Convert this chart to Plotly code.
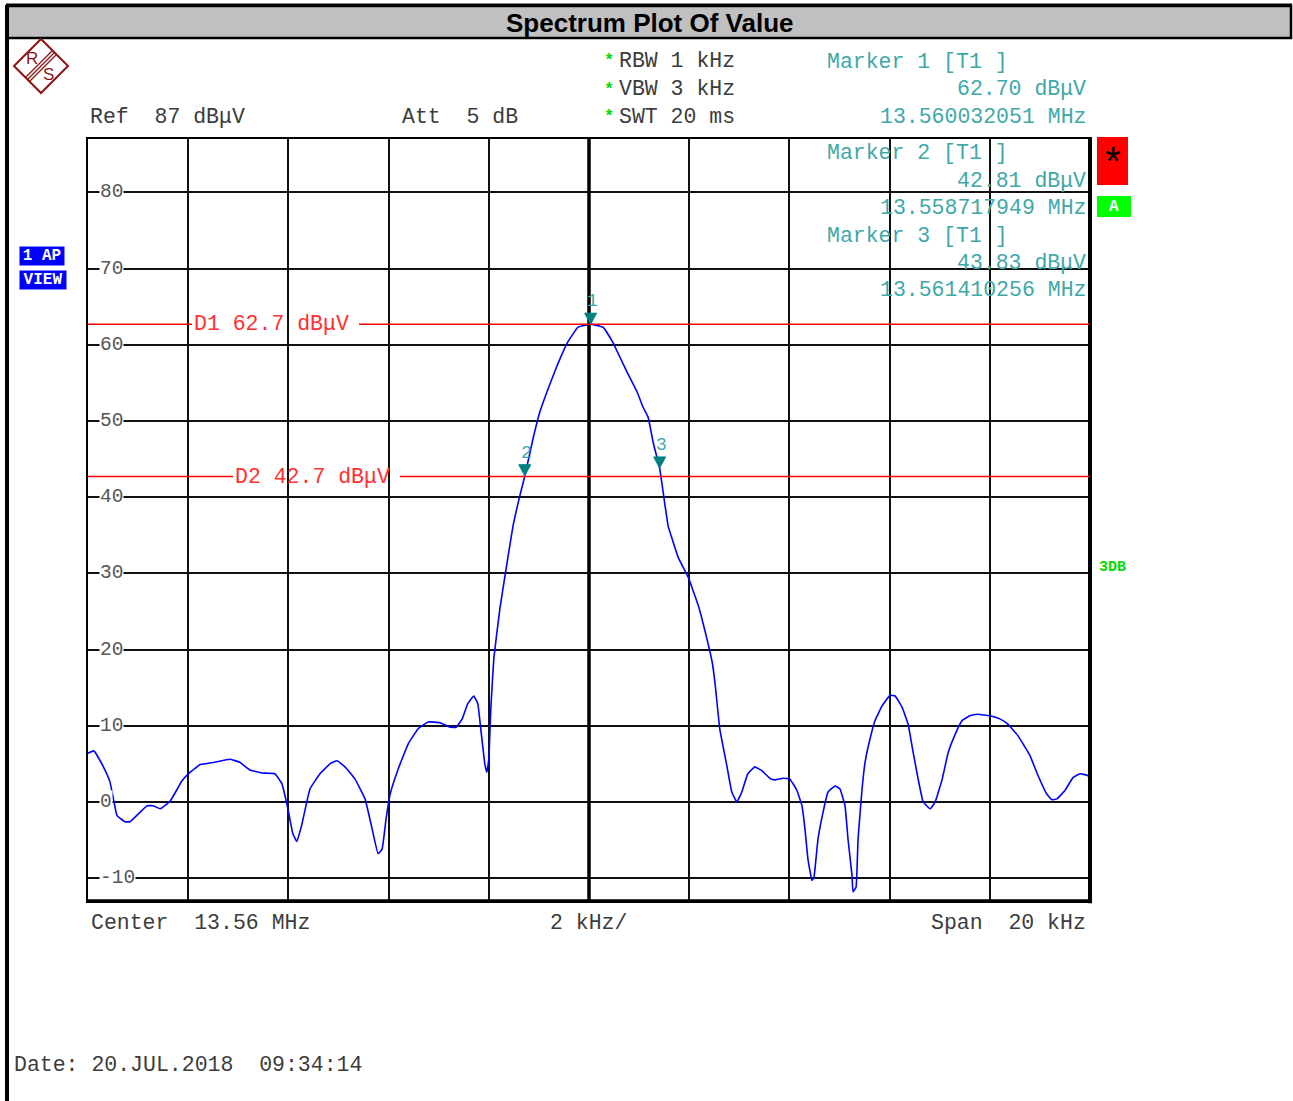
import plotly.graph_objects as go

# ---------------- data ----------------
center_mhz = 13.56
span_khz = 20
ref_level = 87
range_db = 100

freq_offset_khz = [
    -10.0, -9.88, -9.70, -9.56, -9.42, -9.26, -9.16, -8.82, -8.70, -8.56,
    -8.36, -8.12, -7.96, -7.76, -7.47, -7.17, -6.97, -6.77, -6.53, -6.27,
    -6.13, -6.01, -5.91, -5.83, -5.73, -5.57, -5.37, -5.17, -5.03, -4.87,
    -4.67, -4.47, -4.33, -4.21, -4.13, -4.05, -3.97, -3.81, -3.61, -3.41,
    -3.21, -2.97, -2.77, -2.65, -2.53, -2.42, -2.30, -2.22, -2.16, -2.08,
    -2.04, -2.00, -1.96, -1.90, -1.78, -1.64, -1.52, -1.38, -1.28, -1.12,
    -0.98, -0.84, -0.64, -0.42, -0.22, -0.04, 0.03, 0.28, 0.46, 0.76,
    0.96, 1.08, 1.18, 1.28, 1.41, 1.52, 1.58, 1.66, 1.78, 1.98,
    2.18, 2.32, 2.46, 2.52, 2.61, 2.75, 2.85, 2.95, 3.05, 3.17,
    3.31, 3.45, 3.61, 3.71, 3.87, 4.01, 4.15, 4.25, 4.31, 4.37,
    4.45, 4.49, 4.57, 4.67, 4.77, 4.91, 5.01, 5.11, 5.17, 5.25,
    5.27, 5.33, 5.37, 5.45, 5.51, 5.61, 5.71, 5.85, 6.01, 6.11,
    6.25, 6.37, 6.47, 6.57, 6.67, 6.81, 6.91, 7.05, 7.17, 7.31,
    7.45, 7.60, 7.76, 8.00, 8.20, 8.36, 8.56, 8.80, 8.96, 9.14,
    9.24, 9.34, 9.50, 9.66, 9.80, 9.94, 10.00,
]
level_dbuv = [
    6.4, 6.7, 4.7, 2.6, -1.8, -2.6, -2.6, -0.5, -0.5, -0.9,
    0.1, 2.8, 3.9, 4.9, 5.2, 5.6, 5.2, 4.2, 3.8, 3.7,
    2.4, -0.9, -4.2, -5.2, -2.9, 1.7, 3.7, 5.0, 5.4, 4.6,
    3.0, 0.4, -3.5, -6.8, -6.2, -2.2, 1.0, 4.3, 7.6, 9.6,
    10.5, 10.4, 9.8, 9.8, 10.9, 12.9, 13.9, 12.9, 9.6, 5.0,
    3.9, 5.6, 12.2, 18.8, 25.3, 31.2, 36.1, 40.2, 42.8, 47.6,
    51.2, 53.8, 57.2, 60.4, 62.3, 62.6, 62.7, 62.3, 60.5, 56.4,
    53.8, 51.8, 50.5, 47.2, 43.8, 38.8, 36.2, 34.5, 32.1, 29.5,
    25.8, 22.3, 18.3, 15.3, 9.6, 4.8, 1.3, 0.0, 1.3, 3.7,
    4.6, 4.1, 3.1, 2.9, 3.1, 3.0, 1.5, -0.5, -3.5, -7.5,
    -10.3, -9.9, -4.9, -1.4, 1.3, 2.1, 1.7, -0.5, -4.9, -9.7,
    -11.8, -11.2, -4.9, 1.7, 5.2, 8.3, 10.7, 12.6, 14.0, 13.9,
    12.4, 10.2, 6.5, 3.0, 0.0, -0.9, 0.0, 3.0, 6.5, 8.9,
    10.7, 11.3, 11.5, 11.3, 10.9, 10.2, 8.7, 6.1, 3.5, 1.0,
    0.3, 0.4, 1.5, 3.2, 3.7, 3.5, 3.2,
]

ytick_vals = [-10, 0, 10, 20, 30, 40, 50, 60, 70, 80]
ytick_labels = ["-10", "0", "10", "20", "30", "40", "50", "60", "70", "80"]
xgrid_vals = [-8, -6, -4, -2, 0, 2, 4, 6, 8]

marker_ids = ["1", "2", "3"]
marker_freq_mhz = [13.560032051, 13.558717949, 13.561410256]
marker_level = [62.70, 42.81, 43.83]

display_names = ["D1", "D2"]
display_levels = [62.7, 42.7]

# ---------------- layout helpers ----------------
W, H = 1293, 1101
L, R, T, B = 88, 1090, 139, 901
MONO = "Liberation Mono"
SANS = "Liberation Sans"
GRAY = "#3c3c3c"
TEAL = "#40a8a8"


def PX(x):
    return (x - L) / (R - L)


def PY(y):
    return (B - y) / (B - T)


annotations = []
shapes = []


def text(x, y, s, size=21.5, color=GRAY, anchor="left", family=MONO, **kw):
    annotations.append(dict(
        xref="paper", yref="paper", x=PX(x), y=PY(y), text=s, showarrow=False,
        xanchor=anchor, yanchor="middle",
        font=dict(family=family, size=size, color=color), **kw))


def pline(x0, y0, x1, y1, color="black", width=2):
    shapes.append(dict(type="line", xref="paper", yref="paper",
                       x0=PX(x0), y0=PY(y0), x1=PX(x1), y1=PY(y1),
                       line=dict(color=color, width=width)))


def prect(x0, y0, x1, y1, fill, lcolor=None, lwidth=0):
    shapes.append(dict(type="rect", xref="paper", yref="paper",
                       x0=PX(x0), y0=PY(y0), x1=PX(x1), y1=PY(y1),
                       fillcolor=fill, line=dict(color=lcolor or fill, width=lwidth)))


fig = go.Figure()
fig.add_trace(go.Scatter(
    x=freq_offset_khz, y=level_dbuv, mode="lines",
    line=dict(color="#0000ff", width=1.6, shape="spline", smoothing=0.3),
    showlegend=False, hoverinfo="skip"))

# ---------------- frame / title bar ----------------
prect(7, 6, 1291, 38, "#c0c0c0", "black", 2.5)
pline(7, 5, 7, 1101, "black", 4)
pline(6, 5, 1292, 5, "black", 3)

text(650, 23, "<b>Spectrum Plot Of Value</b>", size=26, color="black",
     anchor="center", family=SANS)

# R&S logo
logo_col = "#8b1414"
shapes.append(dict(type="path", xref="paper", yref="paper",
                   path="M {} {} L {} {} L {} {} L {} {} Z".format(
                       PX(41), PY(39), PX(68), PY(66), PX(41), PY(93), PX(14), PY(66)),
                   line=dict(color=logo_col, width=2)))
for d in (-2.0, 0, 2.0):
    pline(27.5 + d, 79.5 + d, 54.5 + d, 52.5 + d, logo_col, 1.3)
text(32, 59, "R", size=17, color=logo_col, anchor="center", family=SANS)
text(48, 74, "S", size=17, color=logo_col, anchor="center", family=SANS)

# left side boxes
annotations.append(dict(xref="paper", yref="paper", x=PX(42), y=PY(256), text="<b>1 AP</b>",
                        showarrow=False, xanchor="center", yanchor="middle", bgcolor="#0000ff",
                        width=44, height=18, borderpad=0,
                        font=dict(family=MONO, size=16, color="white")))
annotations.append(dict(xref="paper", yref="paper", x=PX(43), y=PY(280), text="<b>VIEW</b>",
                        showarrow=False, xanchor="center", yanchor="middle", bgcolor="#0000ff",
                        width=46, height=18, borderpad=0,
                        font=dict(family=MONO, size=16, color="white")))

# right side indicators
prect(1097, 137, 1128, 185, "#ff0000")
text(1113, 166, "*", size=40, color="black", anchor="center", family=MONO)
prect(1097, 196, 1131, 217, "#00ff00")
text(1114, 207, "<b>A</b>", size=16, color="white", anchor="center", family=MONO)
text(1097, 567, "<b>3DB</b>", size=15, color="#00dd00", anchor="left", family=MONO)

# header text
text(88, 117, "Ref  87 dBμV")
text(400, 117, "Att  5 dB")
for yy, s in zip((60, 88, 116), ("RBW 1 kHz", "VBW 3 kHz", "SWT 20 ms")):
    text(602, yy + 1, "<b>*</b>", size=17, color="#00dd00", anchor="left")
    text(617, yy + 1, s)

# marker readouts
blocks_y = [(62, 89, 117), (153, 181, 208), (236, 263, 290)]
for mid, f, lv, (y1, y2, y3) in zip(marker_ids, marker_freq_mhz, marker_level, blocks_y):
    text(825, y1, "Marker {} [T1 ]".format(mid), color=TEAL)
    text(1088, y2, "{:.2f} dBμV".format(lv), color=TEAL, anchor="right")
    text(1088, y3, "{:.9f} MHz".format(f), color=TEAL, anchor="right")

# footer text
text(89, 923, "Center  13.56 MHz")
text(548, 923, "2 kHz/")
text(1088, 923, "Span  20 kHz", anchor="right")
text(12, 1065, "Date: 20.JUL.2018  09:34:14")

# ---------------- grid / axis ----------------
shapes.append(dict(type="line", xref="x", yref="paper", x0=0, x1=0, y0=0, y1=1,
                   line=dict(color="black", width=3.5)))
shapes.append(dict(type="line", xref="paper", yref="paper", x0=1, x1=1, y0=-0.003, y1=1,
                   line=dict(color="black", width=4)))
shapes.append(dict(type="line", xref="paper", yref="paper", x0=0, x1=1.002, y0=0, y1=0,
                   line=dict(color="black", width=3.5)))

for v, lab in zip(ytick_vals, ytick_labels):
    annotations.append(dict(xref="paper", yref="y", x=PX(99), y=v, text=lab, showarrow=False,
                            xanchor="left", yanchor="middle", bgcolor="white", borderpad=0,
                            font=dict(family=MONO, size=19.5, color="#555555")))

dl_label_x = [(192, 359), (233, 400)]
for name, lv, (gx0, gx1) in zip(display_names, display_levels, dl_label_x):
    shapes.append(dict(type="line", xref="paper", yref="y", x0=0, x1=PX(gx0), y0=lv, y1=lv,
                       line=dict(color="#ff0000", width=1.5)))
    shapes.append(dict(type="line", xref="paper", yref="y", x0=PX(gx1), x1=1, y0=lv, y1=lv,
                       line=dict(color="#ff0000", width=1.5)))
    annotations.append(dict(xref="paper", yref="y", x=PX(gx0), y=lv,
                            text="{} {:.1f} dBμV".format(name, lv), showarrow=False,
                            xanchor="left", yanchor="middle",
                            font=dict(family=MONO, size=21.5, color="#ff3030")))

for mid, f, lv in zip(marker_ids, marker_freq_mhz, marker_level):
    xo = (f - center_mhz) * 1000.0
    shapes.append(dict(type="path", xref="x", yref="y", xsizemode="pixel", ysizemode="pixel",
                       xanchor=xo, yanchor=lv, path="M -6 11 L 6 11 L 0 0 Z",
                       fillcolor="#008080", line=dict(color="#008080", width=1)))
    annotations.append(dict(xref="x", yref="y", x=xo, y=lv, text=mid, showarrow=False,
                            xanchor="center", yanchor="middle", yshift=23, xshift=2,
                            font=dict(family=MONO, size=18, color=TEAL)))

fig.update_layout(
    width=W, height=H,
    margin=dict(l=L, r=W - R, t=T, b=H - B, pad=0),
    paper_bgcolor="white", plot_bgcolor="white",
    showlegend=False,
    xaxis=dict(range=[-span_khz / 2, span_khz / 2], tickvals=xgrid_vals, showticklabels=False,
               showgrid=True, gridcolor="#111111", gridwidth=2, zeroline=False,
               showline=True, mirror=True, linecolor="black", linewidth=2, ticks="",
               fixedrange=True),
    yaxis=dict(range=[ref_level - range_db, ref_level], tickvals=ytick_vals, showticklabels=False,
               showgrid=True, gridcolor="#111111", gridwidth=2, zeroline=False,
               showline=True, mirror=True, linecolor="black", linewidth=2, ticks="",
               fixedrange=True),
    annotations=annotations,
    shapes=shapes,
)

fig.write_html("out.html", config={"displayModeBar": False},
               post_script="document.body.style.margin='0';document.body.style.overflow='hidden';")
